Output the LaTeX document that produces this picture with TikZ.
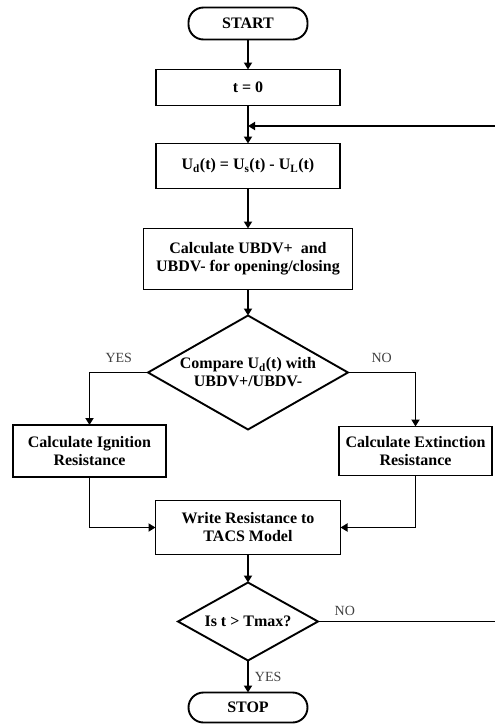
\documentclass[tikz,border=0pt]{standalone}
\usepackage{fontspec}
\setmainfont{Liberation Serif}
\usetikzlibrary{arrows.meta,positioning,shapes.geometric}

\begin{document}
\begin{tikzpicture}[->,>={Triangle[length=7pt,width=8pt]},x=1pt,y=-1pt,
  line width=1.9pt,node distance=30pt,
  box node/.style={rectangle,draw,align=center,inner sep=0pt,outer sep=0pt,
    font=\fontsize{16}{18}\selectfont\bfseries},
  term node/.style={box node,rounded corners=15pt,minimum width=119pt,minimum height=32pt},
  proc node/.style={box node,minimum width=184pt,minimum height=36pt},
  dec node/.style={box node,diamond,aspect=1.75},
  lbl/.style={font=\fontsize{14}{16}\selectfont,text=black!75,inner sep=1pt}]
    \useasboundingbox (0,0) rectangle (495,724);
    \node[term node](start) at (248,23.5) {START};
    \node[proc node,below=30pt of start](t0){t = 0};
    \node[proc node,minimum height=45pt,below=38pt of t0](ud)
      {U\textsubscript{d}(t) = U\textsubscript{s}(t) - U\textsubscript{L}(t)};
    \node[proc node,minimum width=209pt,minimum height=61pt,below=40pt of ud](calc)
      {Calculate UBDV+~ and\\UBDV- for opening/closing};
    \node[dec node,minimum width=200pt,minimum height=114pt,below=26pt of calc](cmp)
      {Compare U\textsubscript{d}(t) with\\UBDV+/UBDV-};
    \node[proc node,minimum width=153pt,minimum height=52pt](ign) at (89.5,451)
      {Calculate Ignition\\Resistance};
    \node[proc node,minimum width=153pt,minimum height=49pt](ext) at (415.5,451)
      {Calculate Extinction\\Resistance};
    \node[proc node,minimum width=185pt,minimum height=54pt,below=71pt of cmp](write)
      {Write Resistance to\\TACS Model};
    \node[dec node,minimum width=140pt,minimum height=78pt,below=28pt of write](tmax)
      {Is t > Tmax?};
    \node[term node,minimum height=30pt,below=32pt of tmax](stop){STOP};
    \coordinate (loopT) at (497,126);
    \coordinate (loopR) at (497,622);
    \path (start) edge (t0);
    \path (t0) edge (ud);
    \path (ud) edge (calc);
    \path (calc) edge (cmp);
    \draw (cmp.west) -| node[lbl,pos=0.25,above=8pt]{YES} (ign.north);
    \draw (cmp.east) -| node[lbl,pos=0.25,above=8pt]{NO} (ext.north);
    \draw (ign.south) |- (write.west);
    \draw (ext.south) |- (write.east);
    \path (write) edge (tmax);
    \path (tmax) edge node[lbl,right=5pt]{YES} (stop);
    \draw[-] (tmax.east) -- node[lbl,pos=0.15,above=4pt]{NO} (tmax.east -| loopR);
    \draw (loopT) -- (loopT -| ud.north);
\end{tikzpicture}
\end{document}
